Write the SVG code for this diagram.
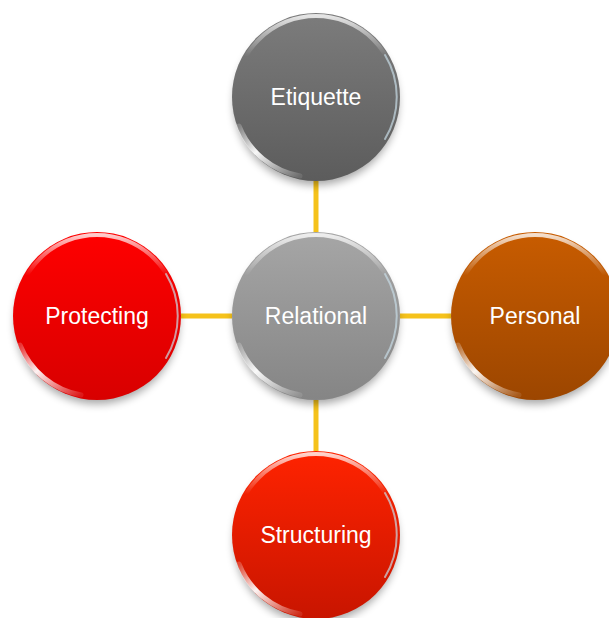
<svg xmlns="http://www.w3.org/2000/svg" width="609" height="618" viewBox="0 0 609 618">
<defs>
<style>
.lbl{font-family:"Liberation Sans",Arial,sans-serif;font-size:23px;fill:#ffffff;text-anchor:middle}
.conn{stroke:#F5C21B;stroke-width:5;fill:none}
.rimtop{fill:none;stroke:url(#topHi);stroke-width:4}
.rimlow{fill:none;stroke:url(#lowHi);stroke-width:5;stroke-linecap:round}
.rimright{fill:none;stroke:#c8dbe6;stroke-width:2;stroke-opacity:0.7;stroke-linecap:round}
.shadow{fill:#000;opacity:0.35;filter:url(#blur)}
</style>
<filter id="blur" x="-20%" y="-20%" width="140%" height="140%"><feGaussianBlur stdDeviation="4"/></filter>
<linearGradient id="topHi" x1="0" y1="0" x2="0" y2="1">
<stop offset="0" stop-color="#fff" stop-opacity="0.8"/><stop offset="0.25" stop-color="#fff" stop-opacity="0"/><stop offset="1" stop-color="#fff" stop-opacity="0"/>
</linearGradient>
<linearGradient id="lowHi" x1="0" y1="0" x2="1" y2="1">
<stop offset="0" stop-color="#fff" stop-opacity="0.2"/><stop offset="0.4" stop-color="#fff" stop-opacity="0.95"/><stop offset="1" stop-color="#fff" stop-opacity="0.1"/>
</linearGradient>
<linearGradient id="gGray" x1="0" y1="0" x2="0" y2="1"><stop offset="0" stop-color="#7c7c7c"/><stop offset="1" stop-color="#5c5c5c"/></linearGradient>
<linearGradient id="gLight" x1="0" y1="0" x2="0" y2="1"><stop offset="0" stop-color="#a6a6a6"/><stop offset="1" stop-color="#858585"/></linearGradient>
<linearGradient id="gOrange" x1="0" y1="0" x2="0" y2="1"><stop offset="0" stop-color="#c85c00"/><stop offset="1" stop-color="#9c4600"/></linearGradient>
<linearGradient id="gRed" x1="0" y1="0" x2="0" y2="1"><stop offset="0" stop-color="#ff0000"/><stop offset="1" stop-color="#d80000"/></linearGradient>
<linearGradient id="gRedOr" x1="0" y1="0" x2="0" y2="1"><stop offset="0" stop-color="#ff2300"/><stop offset="1" stop-color="#c81500"/></linearGradient>
</defs>
<rect width="609" height="618" fill="#ffffff"/>
<g id="connectors">
<line class="conn" x1="316" y1="181" x2="316" y2="232"/>
<line class="conn" x1="316" y1="400" x2="316" y2="451"/>
<line class="conn" x1="181" y1="316" x2="232" y2="316"/>
<line class="conn" x1="400" y1="316" x2="451" y2="316"/>
</g>
<g id="etiquette">
<ellipse class="shadow" cx="316" cy="103" rx="82" ry="82"/>
<circle cx="316" cy="97" r="84" fill="url(#gGray)"/>
<circle class="rimtop" cx="316" cy="97" r="81"/>
<path class="rimlow" d="M239,126 A81,81 0 0 0 300,176"/>
<path class="rimright" d="M385,55 A81,81 0 0 1 385,139"/>
<text class="lbl" x="316" y="105">Etiquette</text>
</g>
<g id="relational">
<ellipse class="shadow" cx="316" cy="322" rx="82" ry="82"/>
<circle cx="316" cy="316" r="84" fill="url(#gLight)"/>
<circle class="rimtop" cx="316" cy="316" r="81"/>
<path class="rimlow" d="M239,345 A81,81 0 0 0 300,395"/>
<path class="rimright" d="M385,274 A81,81 0 0 1 385,358"/>
<text class="lbl" x="316" y="324">Relational</text>
</g>
<g id="personal">
<ellipse class="shadow" cx="535" cy="322" rx="82" ry="82"/>
<circle cx="535" cy="316" r="84" fill="url(#gOrange)"/>
<circle class="rimtop" cx="535" cy="316" r="81"/>
<path class="rimlow" d="M458,345 A81,81 0 0 0 519,395"/>
<text class="lbl" x="535" y="324">Personal</text>
</g>
<g id="protecting">
<ellipse class="shadow" cx="97" cy="322" rx="82" ry="82"/>
<circle cx="97" cy="316" r="84" fill="url(#gRed)"/>
<circle class="rimtop" cx="97" cy="316" r="81"/>
<path class="rimlow" d="M20,345 A81,81 0 0 0 81,395"/>
<path class="rimright" d="M166,274 A81,81 0 0 1 166,358"/>
<text class="lbl" x="97" y="324">Protecting</text>
</g>
<g id="structuring">
<ellipse class="shadow" cx="316" cy="541" rx="82" ry="82"/>
<circle cx="316" cy="535" r="84" fill="url(#gRedOr)"/>
<circle class="rimtop" cx="316" cy="535" r="81"/>
<path class="rimlow" d="M239,564 A81,81 0 0 0 300,614"/>
<path class="rimright" d="M385,493 A81,81 0 0 1 385,577"/>
<text class="lbl" x="316" y="543">Structuring</text>
</g>
</svg>
